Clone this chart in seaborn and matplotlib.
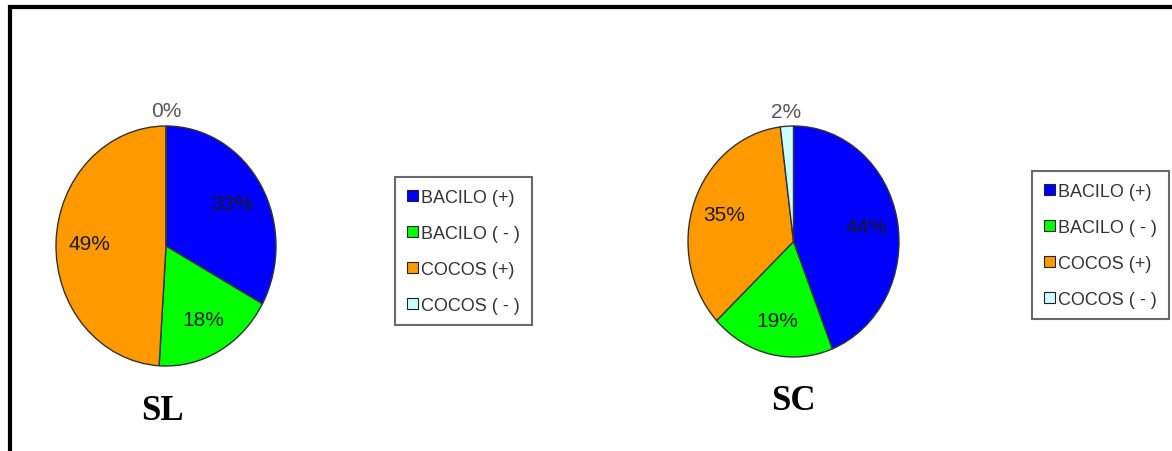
import numpy as np
import pandas as pd
import matplotlib
matplotlib.use("Agg")
import matplotlib.pyplot as plt
from matplotlib.patches import Patch, Rectangle
import seaborn as sns

categories = ["BACILO (+)", "BACILO ( - )", "COCOS (+)", "COCOS ( - )"]
sl_values = [33, 18, 49, 0]
sc_values = [44, 19, 35, 2]
panel_names = ["SL", "SC"]

sns.set_theme(style="white")
plt.rcParams["font.family"] = ["Liberation Sans", "DejaVu Sans"]
colors = sns.color_palette(["#0000FF", "#00FF00", "#FF9900", "#CCFFFF"])

df = pd.DataFrame({"SL": sl_values, "SC": sc_values}, index=categories)

W, H = 1172, 452
fig = plt.figure(figsize=(W / 100, H / 100), dpi=100)
fig.patch.set_facecolor("white")

# pixel boxes (left, top, width, height) for pies, legend anchors and titles
pie_boxes = {"SL": (56, 127, 220, 240), "SC": (688, 127, 211, 231)}
legend_anchor = {"SL": (395, 178), "SC": (1032, 172)}
title_pos = {"SL": (162, 412), "SC": (793, 402)}


def draw_pie(name):
    l, t, w, h = pie_boxes[name]
    ax = fig.add_axes([l / W, 1 - (t + h) / H, w / W, h / H])
    vals = df[name].values
    wedges, texts, autotexts = ax.pie(
        vals, colors=colors, startangle=90, counterclock=False,
        autopct="%1.0f%%", pctdistance=0.7,
        wedgeprops=dict(edgecolor="#333333", linewidth=1.0),
        textprops=dict(fontsize=15, color="#1a1a1a"))
    # small slices get their label outside the pie
    for wdg, txt, v in zip(wedges, autotexts, vals):
        if v < 5:
            ang = np.deg2rad((wdg.theta1 + wdg.theta2) / 2)
            txt.set_position((1.13 * np.cos(ang), 1.13 * np.sin(ang)))
            txt.set_color("#555555")
        txt.set_clip_on(False)
    ax.set_aspect("auto")
    ax.set_xlim(-1, 1)
    ax.set_ylim(-1, 1)
    ax.axis("off")

    handles = [Patch(facecolor=c, edgecolor="#222222", linewidth=0.8) for c in colors]
    lx, ly = legend_anchor[name]
    leg = fig.legend(handles, categories, loc="upper left",
                     bbox_to_anchor=(lx / W, 1 - ly / H), bbox_transform=fig.transFigure,
                     borderaxespad=0, fontsize=13, handlelength=0.6, handleheight=0.6,
                     handletextpad=0.2, labelspacing=1.05, borderpad=0.65,
                     fancybox=False, frameon=True, labelcolor="#333333")
    leg.get_frame().set_edgecolor("#444444")
    leg.get_frame().set_linewidth(1.5)

    tx, ty = title_pos[name]
    fig.text(tx / W, 1 - ty / H, name, ha="center", va="center",
             fontsize=25, fontweight="bold", family="Liberation Serif", color="black")


for p in panel_names:
    draw_pie(p)

# outer frame, cut off on the right and at the bottom
fig.patches.append(Rectangle((10 / W, -0.1), 1.2, 1.1 - 8 / H, transform=fig.transFigure,
                             fill=False, edgecolor="black", linewidth=3))

fig.savefig("out.png", dpi=100)
